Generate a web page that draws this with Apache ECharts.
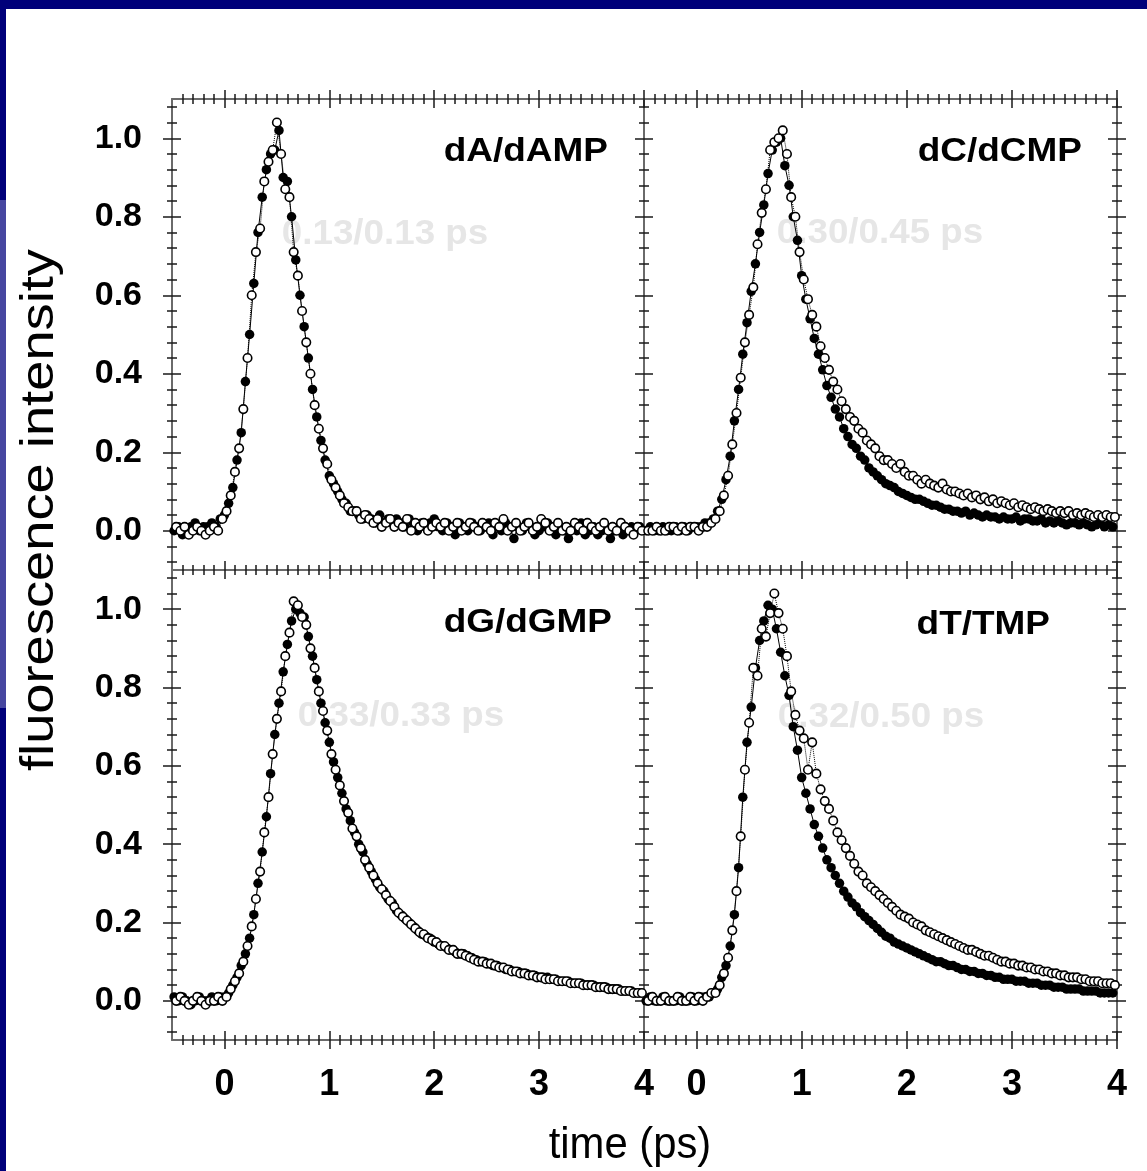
<!DOCTYPE html>
<html><head><meta charset="utf-8">
<script src="https://cdn.jsdelivr.net/npm/echarts@6/dist/echarts.min.js"></script>
<style>html,body{margin:0;padding:0;background:#fff}#c{width:1147px;height:1171px}</style>
</head><body><div id="c"></div><script>
// ---------- data ----------
const timeFilled = [
-0.48,-0.44,-0.40,-0.36,-0.32,-0.28,-0.24,-0.20,-0.16,-0.12,
-0.08,-0.04,0.00,0.04,0.08,0.12,0.16,0.20,0.24,0.28,
0.32,0.36,0.40,0.44,0.48,0.52,0.56,0.60,0.64,0.68,
0.72,0.76,0.80,0.84,0.88,0.92,0.96,1.00,1.04,1.08,
1.12,1.16,1.20,1.24,1.28,1.32,1.36,1.40,1.44,1.48,
1.52,1.56,1.60,1.64,1.68,1.72,1.76,1.80,1.84,1.88,
1.92,1.96,2.00,2.04,2.08,2.12,2.16,2.20,2.24,2.28,
2.32,2.36,2.40,2.44,2.48,2.52,2.56,2.60,2.64,2.68,
2.72,2.76,2.80,2.84,2.88,2.92,2.96,3.00,3.04,3.08,
3.12,3.16,3.20,3.24,3.28,3.32,3.36,3.40,3.44,3.48,
3.52,3.56,3.60,3.64,3.68,3.72,3.76,3.80,3.84,3.88,
3.92,3.96];
const timeOpen = [
-0.46,-0.42,-0.38,-0.34,-0.30,-0.26,-0.22,-0.18,-0.14,-0.10,
-0.06,-0.02,0.02,0.06,0.10,0.14,0.18,0.22,0.26,0.30,
0.34,0.38,0.42,0.46,0.50,0.54,0.58,0.62,0.66,0.70,
0.74,0.78,0.82,0.86,0.90,0.94,0.98,1.02,1.06,1.10,
1.14,1.18,1.22,1.26,1.30,1.34,1.38,1.42,1.46,1.50,
1.54,1.58,1.62,1.66,1.70,1.74,1.78,1.82,1.86,1.90,
1.94,1.98,2.02,2.06,2.10,2.14,2.18,2.22,2.26,2.30,
2.34,2.38,2.42,2.46,2.50,2.54,2.58,2.62,2.66,2.70,
2.74,2.78,2.82,2.86,2.90,2.94,2.98,3.02,3.06,3.10,
3.14,3.18,3.22,3.26,3.30,3.34,3.38,3.42,3.46,3.50,
3.54,3.58,3.62,3.66,3.70,3.74,3.78,3.82,3.86,3.90,
3.94,3.98];

const dA_filled = [
0.00,0.01,-0.01,0.00,0.01,0.02,0.00,0.01,0.01,0.02,
0.01,0.03,0.04,0.07,0.11,0.18,0.25,0.38,0.50,0.63,
0.76,0.85,0.92,0.96,0.97,1.02,0.90,0.89,0.80,0.69,
0.60,0.52,0.44,0.36,0.29,0.23,0.18,0.14,0.12,0.10,
0.08,0.07,0.05,0.05,0.04,0.03,0.04,0.03,0.02,0.04,
0.02,0.03,0.02,0.03,0.02,0.01,0.03,0.02,0.00,0.02,
0.01,0.02,0.03,0.01,0.00,0.02,0.01,-0.01,0.02,0.01,
0.00,0.02,0.01,0.00,0.01,0.02,-0.01,0.01,0.00,0.02,
0.01,-0.02,0.01,0.00,0.02,0.01,-0.01,0.00,0.01,0.02,
0.00,-0.01,0.01,0.00,-0.02,0.01,0.00,0.02,-0.01,0.00,
0.01,-0.01,0.00,0.01,-0.02,0.00,0.01,-0.01,0.00,0.01,
0.00,0.01];
const dA_open = [
0.01,0.00,0.01,-0.01,0.00,0.01,0.00,-0.01,0.00,0.01,
0.00,0.03,0.05,0.09,0.15,0.21,0.31,0.44,0.60,0.71,
0.77,0.89,0.94,0.97,1.04,0.96,0.87,0.85,0.71,0.65,
0.56,0.48,0.40,0.32,0.26,0.21,0.17,0.13,0.11,0.09,
0.07,0.06,0.05,0.05,0.03,0.04,0.03,0.02,0.03,0.01,
0.02,0.03,0.01,0.02,0.01,0.03,0.00,0.02,0.01,0.02,
0.00,0.01,0.02,0.01,0.02,0.00,0.01,0.02,0.00,0.01,
0.02,0.01,0.00,0.02,0.01,0.00,0.02,0.01,0.03,0.00,
0.01,0.02,0.00,0.01,0.02,0.00,0.01,0.03,0.02,0.00,
0.01,0.02,0.00,0.01,0.00,0.02,0.01,0.00,0.02,0.01,
0.00,0.01,0.02,0.00,0.01,0.00,0.02,0.01,0.00,-0.01,
0.01,0.00];

const dC_filled = [
0.00,0.01,0.00,0.00,0.01,0.00,0.00,0.01,0.00,0.01,
0.00,0.01,0.01,0.01,0.02,0.02,0.03,0.05,0.08,0.13,
0.19,0.28,0.36,0.45,0.53,0.61,0.68,0.76,0.83,0.91,
0.97,0.99,1.00,0.93,0.88,0.80,0.74,0.65,0.59,0.54,
0.49,0.45,0.41,0.37,0.34,0.31,0.29,0.26,0.24,0.22,
0.21,0.19,0.18,0.16,0.15,0.14,0.13,0.12,0.115,0.11,
0.10,0.095,0.09,0.085,0.08,0.08,0.075,0.07,0.065,0.065,
0.06,0.055,0.055,0.05,0.05,0.045,0.05,0.04,0.045,0.04,
0.035,0.04,0.035,0.035,0.03,0.035,0.03,0.03,0.035,0.025,
0.03,0.03,0.025,0.025,0.03,0.02,0.025,0.02,0.025,0.02,
0.015,0.02,0.02,0.015,0.02,0.015,0.01,0.015,0.02,0.01,
0.015,0.01];
const dC_open = [
0.00,0.00,0.01,0.00,0.00,0.01,0.01,0.00,0.01,0.00,
0.01,0.01,0.00,0.01,0.01,0.02,0.03,0.05,0.09,0.14,
0.22,0.30,0.39,0.48,0.55,0.62,0.73,0.81,0.87,0.97,
0.99,1.00,1.02,0.96,0.85,0.80,0.71,0.64,0.59,0.55,
0.52,0.47,0.44,0.41,0.38,0.36,0.33,0.31,0.29,0.28,
0.26,0.25,0.23,0.22,0.21,0.19,0.18,0.18,0.17,0.16,
0.17,0.15,0.14,0.14,0.13,0.12,0.13,0.12,0.115,0.11,
0.12,0.105,0.10,0.10,0.095,0.09,0.095,0.085,0.09,0.08,
0.085,0.075,0.08,0.07,0.075,0.07,0.065,0.07,0.06,0.065,
0.06,0.055,0.06,0.055,0.05,0.055,0.05,0.045,0.05,0.045,
0.05,0.04,0.045,0.04,0.045,0.04,0.035,0.04,0.035,0.04,
0.035,0.035];

const dG_filled = [
0.01,0.00,0.01,0.00,-0.01,0.00,0.01,0.00,0.00,0.01,
0.00,0.01,0.01,0.02,0.04,0.06,0.09,0.12,0.16,0.22,
0.30,0.38,0.47,0.58,0.68,0.76,0.84,0.91,0.97,1.00,
0.99,0.98,0.93,0.88,0.82,0.76,0.71,0.66,0.61,0.57,
0.53,0.49,0.46,0.43,0.40,0.38,0.35,0.33,0.31,0.29,
0.28,0.26,0.25,0.23,0.22,0.21,0.20,0.19,0.18,0.17,
0.165,0.16,0.15,0.145,0.14,0.135,0.13,0.125,0.12,0.12,
0.115,0.11,0.105,0.10,0.10,0.095,0.09,0.09,0.085,0.08,
0.08,0.075,0.075,0.07,0.07,0.065,0.065,0.06,0.06,0.06,
0.055,0.055,0.05,0.05,0.05,0.045,0.045,0.045,0.04,0.04,
0.04,0.035,0.035,0.035,0.03,0.03,0.03,0.025,0.025,0.025,
0.02,0.02];
const dG_open = [
0.00,0.01,0.00,-0.01,0.00,0.01,0.00,-0.01,0.00,0.00,
0.01,0.00,0.01,0.03,0.05,0.07,0.10,0.14,0.19,0.26,
0.33,0.43,0.52,0.63,0.72,0.79,0.88,0.94,1.02,1.01,
0.98,0.96,0.90,0.85,0.79,0.74,0.69,0.63,0.59,0.55,
0.51,0.48,0.44,0.42,0.39,0.36,0.34,0.32,0.30,0.285,
0.27,0.255,0.24,0.225,0.215,0.205,0.195,0.185,0.175,0.17,
0.16,0.155,0.15,0.14,0.14,0.13,0.13,0.12,0.12,0.115,
0.11,0.105,0.10,0.10,0.095,0.095,0.09,0.085,0.085,0.08,
0.075,0.075,0.07,0.07,0.065,0.065,0.06,0.06,0.055,0.055,
0.055,0.05,0.05,0.05,0.045,0.045,0.045,0.04,0.04,0.04,
0.035,0.035,0.035,0.03,0.03,0.03,0.025,0.025,0.025,0.02,
0.02,0.02];

const dT_filled = [
0.00,0.01,0.00,0.00,0.01,0.00,0.00,0.00,0.01,0.00,
0.00,0.01,0.00,0.01,0.01,0.01,0.02,0.03,0.06,0.09,
0.14,0.22,0.34,0.52,0.66,0.75,0.85,0.92,0.97,1.01,
1.00,0.95,0.89,0.83,0.78,0.70,0.64,0.57,0.53,0.49,
0.45,0.42,0.39,0.36,0.34,0.32,0.30,0.28,0.265,0.25,
0.24,0.225,0.215,0.205,0.195,0.185,0.175,0.165,0.16,0.15,
0.145,0.14,0.135,0.13,0.125,0.12,0.115,0.11,0.105,0.10,
0.10,0.095,0.09,0.09,0.085,0.08,0.08,0.075,0.075,0.07,
0.07,0.065,0.065,0.06,0.06,0.055,0.055,0.055,0.05,0.05,
0.05,0.045,0.045,0.045,0.04,0.04,0.04,0.035,0.035,0.035,
0.03,0.03,0.03,0.03,0.025,0.025,0.025,0.025,0.02,0.02,
0.02,0.02];
const dT_open = [
0.00,0.01,0.00,0.00,0.01,0.00,0.00,0.01,0.00,0.00,
0.01,0.00,0.01,0.00,0.01,0.02,0.02,0.04,0.07,0.11,
0.18,0.28,0.42,0.59,0.71,0.85,0.83,0.95,0.93,0.99,
1.04,0.99,0.95,0.88,0.79,0.73,0.69,0.67,0.59,0.66,
0.58,0.54,0.51,0.49,0.46,0.43,0.41,0.39,0.37,0.35,
0.33,0.32,0.30,0.29,0.28,0.27,0.26,0.25,0.24,0.23,
0.22,0.215,0.21,0.20,0.195,0.19,0.18,0.175,0.17,0.165,
0.16,0.155,0.15,0.145,0.14,0.135,0.13,0.13,0.125,0.12,
0.115,0.115,0.11,0.105,0.10,0.10,0.095,0.095,0.09,0.09,
0.085,0.085,0.08,0.08,0.075,0.075,0.07,0.07,0.065,0.065,
0.06,0.06,0.06,0.055,0.055,0.05,0.05,0.05,0.045,0.045,
0.045,0.04];

const panelTitles = ['dA/dAMP', 'dC/dCMP', 'dG/dGMP', 'dT/TMP'];
const panelLifetimes = ['0.13/0.13 ps', '0.30/0.45 ps', '0.33/0.33 ps', '0.32/0.50 ps'];
const xMajorTicks = [0, 1, 2, 3, 4];
const yMajorTicks = [0, 0.2, 0.4, 0.6, 0.8, 1.0];
const xAxisTitle = 'time (ps)';
const yAxisTitle = 'fluorescence intensity';

// ---------- layout ----------
const FAM = '"Liberation Sans", Arial, Helvetica, sans-serif';
const NARROW = '"Liberation Sans Narrow", "Arial Narrow", "Liberation Sans", Arial, sans-serif';
const xMinorTicks = [];
for (let k = -4; k <= 39; k++) if (k % 10 !== 0) xMinorTicks.push(k / 10);
const yMinorTicks = [];
for (let k = -2; k <= 27; k++) if (k % 5 !== 0) yMinorTicks.push(Math.round(k * 4) / 100);

const grids = [
  {left: 172, top: 99, width: 472, height: 471},
  {left: 644, top: 99, width: 473, height: 471},
  {left: 172, top: 570, width: 472, height: 470},
  {left: 644, top: 570, width: 473, height: 470}
].map(g => Object.assign({show: false, containLabel: false, outerBoundsMode: 'none'}, g));

const xAxes = [], yAxes = [];
grids.forEach((g, gi) => {
  const bottomRow = gi >= 2, leftCol = gi % 2 === 0;
  ['bottom', 'top'].forEach(pos => {
    [true, false].forEach(inside => {
      [[xMajorTicks, 9], [xMinorTicks, 5]].forEach(([ticks, len], j) => {
        const main = inside && j === 0;
        xAxes.push({
          type: 'value', gridIndex: gi, position: pos, min: -0.5, max: 4, interval: 0.5,
          axisLine: {show: main, onZero: false, lineStyle: {color: '#6a6a6a', width: 2}},
          axisTick: {show: true, inside: inside, length: len, customValues: ticks,
                     lineStyle: {color: '#1a1a1a', width: 1.5}},
          axisLabel: (main && pos === 'bottom' && bottomRow) ? {
            show: true, customValues: xMajorTicks, margin: 27,
            fontFamily: NARROW, fontWeight: 'bold', fontSize: 36, color: '#000',
            formatter: v => String(Math.round(v))
          } : {show: false},
          splitLine: {show: false}, minorTick: {show: false}
        });
      });
    });
  });
  ['left', 'right'].forEach(pos => {
    [true, false].forEach(inside => {
      [[yMajorTicks, 9], [yMinorTicks, 5]].forEach(([ticks, len], j) => {
        const main = inside && j === 0;
        yAxes.push({
          type: 'value', gridIndex: gi, position: pos, min: -0.1, max: 1.1, interval: 0.1,
          axisLine: {show: main, onZero: false, lineStyle: {color: '#6a6a6a', width: 2}},
          axisTick: {show: true, inside: inside, length: len, customValues: ticks,
                     lineStyle: {color: '#1a1a1a', width: 1.5}},
          axisLabel: (main && pos === 'left' && leftCol) ? {
            show: true, customValues: yMajorTicks, margin: 30,
            fontFamily: FAM, fontWeight: 'bold', fontSize: 34, color: '#000',
            formatter: v => v.toFixed(1)
          } : {show: false},
          splitLine: {show: false}, minorTick: {show: false}
        });
      });
    });
  });
});

const panels = [
  {filled: dA_filled, open: dA_open},
  {filled: dC_filled, open: dC_open},
  {filled: dG_filled, open: dG_open},
  {filled: dT_filled, open: dT_open}
];
const series = [];
panels.forEach((p, gi) => {
  series.push({
    type: 'line', name: panelTitles[gi] + ' filled', xAxisIndex: gi * 8, yAxisIndex: gi * 8,
    data: timeFilled.map((t, i) => [t, p.filled[i]]),
    symbol: 'circle', symbolSize: 9.5, showSymbol: true, showAllSymbol: true,
    itemStyle: {color: '#000', borderWidth: 0},
    lineStyle: {color: '#000', width: 1}, z: 3, silent: true, animation: false
  });
  series.push({
    type: 'line', name: panelTitles[gi] + ' open', xAxisIndex: gi * 8, yAxisIndex: gi * 8,
    data: timeOpen.map((t, i) => [t, p.open[i]]),
    symbol: 'circle', symbolSize: 8.5, showSymbol: true, showAllSymbol: true,
    itemStyle: {color: '#fff', borderColor: '#000', borderWidth: 1.6},
    lineStyle: {color: '#000', width: 1, type: 'dotted'}, z: 4, silent: true, animation: false
  });
});

const titlePos = [[608, 152], [1082, 152], [612, 623], [1050, 625]];
const lifePos = [[385, 234], [880, 233], [401, 716], [881, 717]];
const graphic = [
  {type: 'rect', shape: {x: 0, y: 0, width: 1147, height: 9}, style: {fill: '#00007a'}, z: 0},
  {type: 'rect', shape: {x: 0, y: 9, width: 6, height: 1162}, style: {fill: '#00007a'}, z: 0},
  {type: 'rect', shape: {x: 0, y: 200, width: 6, height: 508}, style: {fill: '#4646a0'}, z: 0}
];
lifePos.forEach((p, i) => graphic.push({
  type: 'text', x: p[0], y: p[1], scaleX: 1.05, z: 0, silent: true,
  style: {text: panelLifetimes[i], font: 'bold 35px ' + FAM, fill: '#e6e6e6', align: 'center', verticalAlign: 'middle'}
}));
titlePos.forEach((p, i) => graphic.push({
  type: 'text', x: p[0], y: p[1], scaleX: 1.12, z: 10, silent: true,
  style: {text: panelTitles[i], font: 'bold 33px ' + FAM, fill: '#000', align: 'right', verticalAlign: 'middle'}
}));
graphic.push({
  type: 'text', x: 630, y: 1146, scaleX: 0.95, z: 10, silent: true,
  style: {text: xAxisTitle, font: '44px ' + FAM, fill: '#000', align: 'center', verticalAlign: 'middle'}
});
graphic.push({
  type: 'text', x: 40, y: 510, rotation: Math.PI / 2, scaleX: 1.18, z: 10, silent: true,
  style: {text: yAxisTitle, font: '46px ' + FAM, fill: '#000', align: 'center', verticalAlign: 'middle'}
});

const chart = echarts.init(document.getElementById('c'), null, {renderer: 'canvas'});
chart.setOption({
  backgroundColor: '#ffffff',
  animation: false,
  textStyle: {fontFamily: FAM},
  grid: grids,
  xAxis: xAxes,
  yAxis: yAxes,
  series: series,
  graphic: graphic
});
</script></body></html>
